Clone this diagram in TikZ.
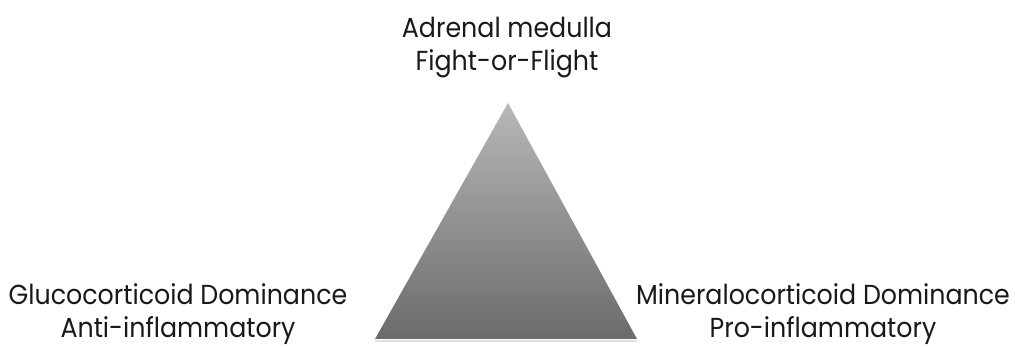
\documentclass[tikz,border=0pt]{standalone}
\usepackage{fontspec}
\setmainfont{Poppins}[FakeStretch=0.92]
\usetikzlibrary{positioning}

\begin{document}
\begin{tikzpicture}[x=1pt,y=1pt,
		label/.style={align=center,inner sep=0pt,font=\fontsize{27.5}{33}\selectfont,text=black!90},
		pyramid/.style={top color=black!28,bottom color=black!58,draw=none}]
	\useasboundingbox (0,0) rectangle (1015,347);

	\coordinate (apex)	at (508,244);
	\coordinate (left)	at (375,8);
	\coordinate (right)	at (637,8);

	\fill[black!12] ([yshift=-3pt]left) rectangle ([yshift=-1pt]right);
	\shade[pyramid] (apex) -- (right) -- (left) -- cycle;

	\node[label,anchor=base]	(top)	at (507,276)	{Adrenal medulla\\Fight-or-Flight};
	\node[label,anchor=base]	(gluco)	at (178,9)	{Glucocorticoid Dominance\\Anti-inflammatory};
	\node[label,anchor=base]	(miner)	at (823,9)	{Mineralocorticoid Dominance\\Pro-inflammatory};
\end{tikzpicture}
\end{document}
